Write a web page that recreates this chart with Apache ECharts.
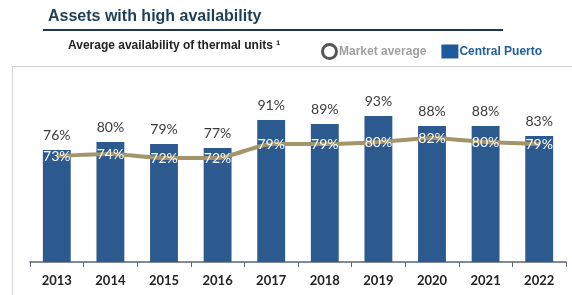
<!DOCTYPE html>
<html>
<head>
<meta charset="utf-8">
<script src="https://cdn.jsdelivr.net/npm/echarts@6/dist/echarts.min.js"></script>
<style>
  html, body { margin: 0; padding: 0; background: #fff; }
  #chart { width: 572px; height: 295px; }
</style>
</head>
<body>
<div id="chart"></div>
<script>
var years = ['2013', '2014', '2015', '2016', '2017', '2018', '2019', '2020', '2021', '2022'];
var centralPuerto = [76, 80, 79, 77, 91, 89, 93, 88, 88, 83];
var marketAverage = [73, 74, 72, 72, 79, 79, 80, 82, 80, 79];

var chartDom = document.getElementById('chart');
var myChart = echarts.init(chartDom, null, { renderer: 'canvas' });

var option = {
  animation: false,
  textStyle: { fontFamily: 'Lato' },
  graphic: [
    {
      type: 'text', left: 48, top: 9,
      style: { text: 'Assets with high availability', fill: '#1d3f55', font: 'bold 16px "Liberation Sans"' }
    },
    {
      type: 'rect', shape: { x: 43, y: 29, width: 460, height: 2 },
      style: { fill: '#1f3a4a' }
    },
    {
      type: 'text', left: 68, top: 40,
      style: { text: 'Average availability of thermal units \u00b9', fill: '#222', font: 'bold 12px "Liberation Sans"' }
    },
    {
      type: 'line', shape: { x1: 12, y1: 66.5, x2: 572, y2: 66.5 },
      style: { stroke: '#d4d4d4', lineWidth: 1 }
    },
    {
      type: 'line', shape: { x1: 12.5, y1: 66, x2: 12.5, y2: 295 },
      style: { stroke: '#d4d4d4', lineWidth: 1 }
    }
  ],
  legend: {
    left: 316,
    top: 38,
    itemGap: 15,
    itemWidth: 17,
    itemHeight: 14,
    textStyle: { fontFamily: 'Liberation Sans', fontWeight: 'bold', fontSize: 12, padding: [0, 0, 0, -4] },
    data: [
      {
        name: 'Market average',
        icon: 'circle',
        itemStyle: { color: '#fff', borderColor: '#555', borderWidth: 3 },
        textStyle: { color: '#a0a0a0' }
      },
      {
        name: 'Central Puerto',
        icon: 'rect',
        itemStyle: { color: '#1f5a9c' },
        textStyle: { color: '#1f5fa0' }
      }
    ]
  },
  grid: { left: 30, right: 6, top: 102, bottom: 33 },
  xAxis: {
    type: 'category',
    data: years,
    axisLine: { lineStyle: { color: '#5a6570', width: 1.5 } },
    axisTick: { show: true, length: 5, lineStyle: { color: '#5a6570' } },
    axisLabel: { color: '#222', fontWeight: 'bold', fontSize: 13, margin: 12, fontFamily: 'Lato' }
  },
  yAxis: {
    type: 'value',
    min: 20,
    max: 100,
    show: false,
    splitLine: { show: false }
  },
  series: [
    {
      name: 'Central Puerto',
      type: 'bar',
      data: centralPuerto,
      barWidth: '52%',
      itemStyle: { color: '#2d5a8e' },
      label: {
        show: true,
        position: 'top',
        distance: 8,
        formatter: '{c}%',
        color: '#3a3a3a',
        fontSize: 14,
        fontFamily: 'Lato'
      },
      z: 2
    },
    {
      name: 'Market average',
      type: 'line',
      data: marketAverage,
      smooth: 0.2,
      symbol: 'circle',
      symbolSize: 1,
      itemStyle: { color: '#a3946a' },
      lineStyle: { color: '#a3946a', width: 4 },
      label: {
        show: true,
        position: 'inside',
        formatter: '{c}%',
        color: '#fff',
        fontSize: 14,
        fontFamily: 'Lato'
      },
      z: 3
    }
  ]
};

option && myChart.setOption(option);
</script>
</body>
</html>
